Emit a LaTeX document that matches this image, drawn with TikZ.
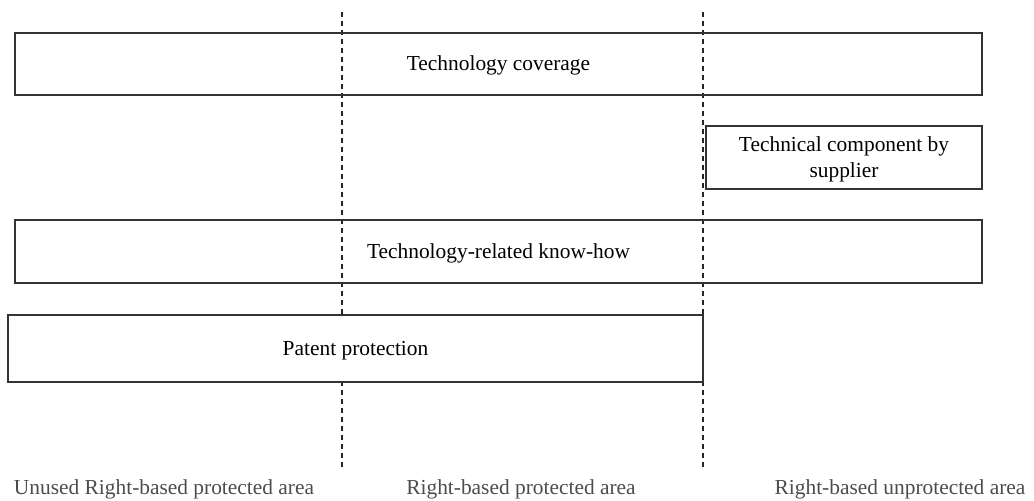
\documentclass[tikz,border=0pt]{standalone}
\usepackage{fontspec}
\setmainfont{Liberation Serif}
\begin{document}
\begin{tikzpicture}[x=0.5pt,y=-0.5pt,
  every node/.style={font=\fontsize{10.7}{12.6}\selectfont},
  bar/.style={draw=black!80, line width=0.7pt, inner sep=0pt, align=center, text=black, text depth=0.5pt},
  solidbar/.style={bar, fill=white},
  divider/.style={draw=black!85, line width=0.6pt, dash pattern=on 2.5pt off 2pt},
  zone/.style={text=black!70, inner sep=0pt}]
\useasboundingbox (0,0) rectangle (1034,500);

% zone boundaries
\coordinate (d1t) at (342,12);
\coordinate (d1b) at (342,468);
\coordinate (d2t) at (703,12);
\coordinate (d2b) at (703,468);
\draw[divider] (d1t) -- (d1b);
\draw[divider] (d2t) -- (d2b);

% bars
\node[bar, minimum width=483.5pt, minimum height=31pt] (cov) at (498.5,64) {Technology coverage};
\node[bar, minimum width=138pt, minimum height=31.5pt] (sup) at (844,157.5) {Technical component by\\supplier};
\node[bar, minimum width=483.5pt, minimum height=31.5pt] (know) at (498.5,251.5) {Technology-related know-how};
\node[solidbar, minimum width=347.5pt, minimum height=33.5pt] (pat) at (355.5,348.5) {Patent protection};

% zone labels
\node[zone] (z1) at (164,489) {Unused Right-based protected area};
\node[zone] (z2) at (521,489) {Right-based protected area};
\node[zone] (z3) at (900,489) {Right-based unprotected area};
\end{tikzpicture}
\end{document}
